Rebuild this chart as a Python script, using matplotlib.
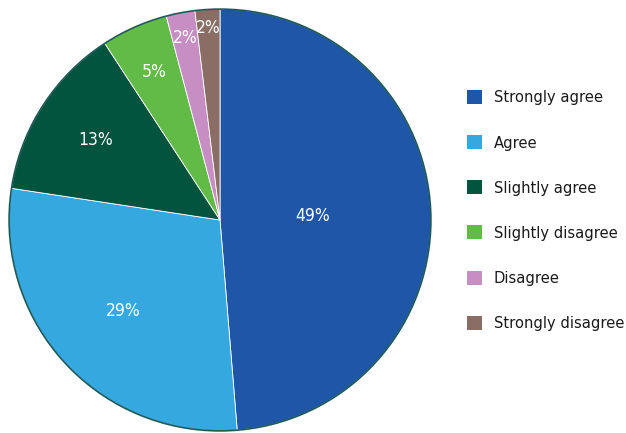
import numpy as np
import matplotlib.pyplot as plt
from matplotlib.patches import Circle

labels = ['Strongly agree', 'Agree', 'Slightly agree', 'Slightly disagree', 'Disagree', 'Strongly disagree']
values = [48.7, 28.7, 13.4, 5.1, 2.2, 1.9]
colors = ['#1f56a8', '#36a8e0', '#03543f', '#62bb47', '#c78ec4', '#8a6e66']
# how far out each percent label sits (fraction of radius)
label_r = [0.44, 0.63, 0.70, 0.77, 0.88, 0.91]

plt.rcParams['font.family'] = ['DejaVu Sans']
plt.rcParams['font.stretch'] = 'condensed'

fig = plt.figure(figsize=(6.26, 4.33), dpi=100)
ax = fig.add_axes([7/626, 0/433, 426/626, 426/433])

wedges, _ = ax.pie(values, colors=colors, startangle=90, counterclock=False,
                   radius=1, wedgeprops=dict(edgecolor='white', linewidth=0.6))
ax.add_patch(Circle((0, 0), 1, fill=False, edgecolor='#1d5a55', linewidth=1.2))

for w, v, r in zip(wedges, values, label_r):
    ang = np.deg2rad((w.theta1 + w.theta2) / 2)
    ax.text(r*np.cos(ang), r*np.sin(ang), '%.0f%%' % v, color='white', fontsize=12.5,
            ha='center', va='center', stretch='condensed')

ax.set_xlim(-1.01, 1.01)
ax.set_ylim(-1.01, 1.01)
ax.set_aspect('equal')
ax.axis('off')

leg = fig.legend(wedges, labels, loc='upper left', bbox_to_anchor=(452/626, 1 - 75/433),
                 frameon=False, labelspacing=1.8, handlelength=0.95,
                 handleheight=0.95, handletextpad=0.7, labelcolor='#1a1a1a',
                 prop=dict(size=11.8, stretch='condensed'))
for h in leg.legend_handles:
    h.set_edgecolor('none')

fig.savefig('out.png', dpi=100)
